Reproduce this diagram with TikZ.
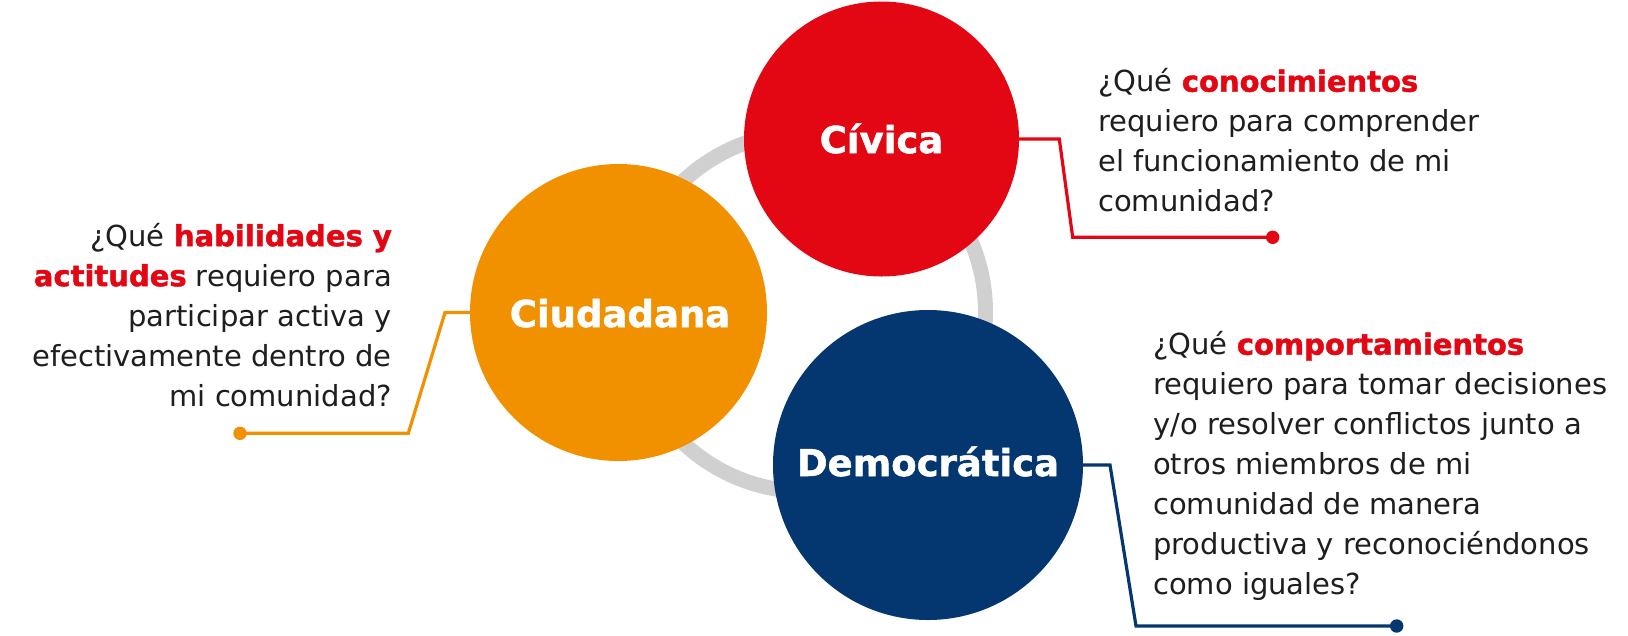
\documentclass[tikz,border=0pt]{standalone}
\usepackage{fontspec}
\setmainfont{DejaVu Sans}[BoldFeatures={FakeBold=1.4}]
\definecolor{civred}{HTML}{E30613}
\definecolor{ciuor}{HTML}{F29100}
\definecolor{demnavy}{HTML}{04366F}
\definecolor{ringgray}{HTML}{D0D0D0}
\definecolor{txtdark}{HTML}{1E1E1E}
\tikzset{
  bigcirc/.style={circle, inner sep=0pt, draw=none},
  titletext/.style={anchor=base, text=white, inner sep=0pt,
    font=\bfseries\fontsize{37}{44}\selectfont},
  qtext/.style={inner sep=0pt, text=txtdark,
    font=\fontsize{29}{40}\selectfont},
  connector/.style={line width=3.2pt, line join=miter},
  enddot/.style={circle, inner sep=0pt, minimum size=13.4pt, draw=none},
}
\newcommand{\hl}[1]{\textcolor{civred}{\bfseries #1}}
\begin{document}
\begin{tikzpicture}[x=1pt,y=-1pt]
\useasboundingbox (0,0) rectangle (1628,635);
\fill[white] (0,0) rectangle (1628,635);
% ring
\draw[ringgray, line width=15pt] (806,312) circle[radius=179.5pt];
% circles
\node[bigcirc, fill=civred, minimum size=275pt] (civ) at (881.5,139) {};
\node[bigcirc, fill=ciuor, minimum size=297pt] (ciu) at (618.5,312.5) {};
\node[bigcirc, fill=demnavy, minimum size=310pt] (dem) at (928,465) {};
% titles
\node[titletext] (civt) at (881.5,153) {Cívica};
\node[titletext] (ciut) at (620,327) {Ciudadana};
\node[titletext] (demt) at (928,476) {Democrática};
% end dots
\node[enddot, fill=civred] (civd) at (1272.7,237.3) {};
\node[enddot, fill=ciuor] (ciud) at (240,433.3) {};
\node[enddot, fill=demnavy] (demd) at (1396.7,626) {};
% connectors
\draw[connector, civred] (civ.east) -- (1059.3,139) -- (1072.7,237.3) -- (civd.center);
\draw[connector, ciuor] (ciu.west) -- (445,312.5) -- (408.3,433.3) -- (ciud.center);
\draw[connector, demnavy] (dem.east) -- (1110,465) -- (1136,626) -- (demd.center);
% question texts
\node[qtext, anchor=north west, align=left] (civq) at (1098,63.5)
  {\strut ¿Qué \hl{conocimientos}\\requiero para comprender\\el funcionamiento de mi\\comunidad?};
\node[qtext, anchor=north east, align=right] (ciuq) at (392,218)
  {\strut ¿Qué \hl{habilidades y}\\\hl{actitudes} requiero para\\participar activa y\\efectivamente dentro de\\mi comunidad?};
\node[qtext, anchor=north west, align=left] (demq) at (1153,326.5)
  {\strut ¿Qué \hl{comportamientos}\\requiero para tomar decisiones\\y/o resolver conflictos junto a\\otros miembros de mi\\comunidad de manera\\productiva y reconociéndonos\\como iguales?};
\end{tikzpicture}
\end{document}
